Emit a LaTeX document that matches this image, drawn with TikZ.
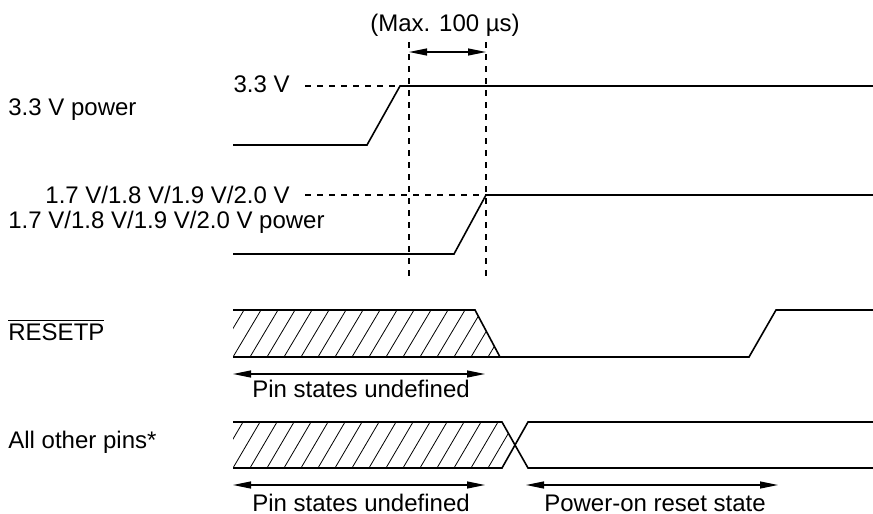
\documentclass[tikz,border=0pt]{standalone}
\usepackage{fontspec}
\setmainfont{Liberation Sans}
\usetikzlibrary{arrows.meta}

\tikzset{
  sig/.style={line width=0.8pt, line join=miter},
  guide/.style={line width=0.6pt, dash pattern=on 3pt off 3pt},
  span/.style={line width=0.6pt,
    {Triangle[length=9pt,width=3.5pt]}-{Triangle[length=9pt,width=3.5pt]}},
  hatch/.style={line width=0.4pt},
  lbl/.style={inner sep=0pt, font=\fontsize{12}{14}\selectfont}
}

\begin{document}
\begin{tikzpicture}[x=0.5pt,y=-0.5pt]
        \useasboundingbox (0,0) rectangle (873,514);
        % signal names
        \node[lbl,anchor=base west] (p33) at (8,115) {3.3 V power};
        \node[lbl,anchor=base west] (p18) at (8,228) {1.7 V/1.8 V/1.9 V/2.0 V power};
        \node[lbl,anchor=base west] (rst) at (8,340) {$\overline{\mbox{RESETP}}$};
        \node[lbl,anchor=base west] (oth) at (8,448) {All other pins*};
        % 3.3 V power
        \draw[sig] (233,145) -- (367,145) -- (400,86) -- (873,86);
        \draw[guide] (305,86) -- (400,86);
        \node[lbl,anchor=base east] (v33) at (290,92) {3.3 V};
        % 1.7 V/1.8 V/1.9 V/2.0 V power
        \draw[sig] (233,254) -- (454,254) -- (486,195) -- (873,195);
        \draw[guide] (305,195) -- (486,195);
        \node[lbl,anchor=base east] (v18) at (290,203) {1.7 V/1.8 V/1.9 V/2.0 V};
        % window between the two supplies
        \coordinate (ga) at (409,42);
        \coordinate (gb) at (486,42);
        \coordinate (ga2) at (409,280);
        \coordinate (gb2) at (486,280);
        \draw[guide] (ga) -- (ga2);
        \draw[guide] (gb) -- (gb2);
        \coordinate (wa) at (409,52);
        \coordinate (wb) at (486,52);
        \draw[span] (wa) -- (wb);
        \node[lbl,anchor=base] (maxw) at (445,32) {(Max. 100 µs)};
        % RESETP
        \begin{scope}
          \clip (233,310) -- (475,310) -- (500,357) -- (233,357) -- cycle;
          \foreach \x in {216,233,...,500}
            \draw[hatch] (\x,357) -- ++(28,-47);
        \end{scope}
        \draw[sig] (233,310) -- (475,310) -- (500,357) -- (749,357) -- (776,310) -- (873,310);
        \draw[sig] (233,357) -- (500,357);
        \coordinate (ua) at (233,374);
        \coordinate (ub) at (485,374);
        \draw[span] (ua) -- (ub);
        \node[lbl,anchor=base] (und1) at (361,397) {Pin states undefined};
        % all other pins
        \begin{scope}
          \clip (233,422) -- (502,422) -- (515,445) -- (502,468) -- (233,468) -- cycle;
          \foreach \x in {216,233,...,520}
            \draw[hatch] (\x,468) -- ++(27,-46);
        \end{scope}
        \draw[sig] (233,422) -- (502,422) -- (528,468) -- (873,468);
        \draw[sig] (233,468) -- (502,468) -- (528,422) -- (873,422);
        \coordinate (va) at (233,485);
        \coordinate (vb) at (485,485);
        \draw[span] (va) -- (vb);
        \node[lbl,anchor=base] (und2) at (361,511) {Pin states undefined};
        \coordinate (ra) at (526,485);
        \coordinate (rb) at (778,485);
        \draw[span] (ra) -- (rb);
        \node[lbl,anchor=base] (por) at (655,511) {Power-on reset state};
    \end{tikzpicture}
\end{document}
